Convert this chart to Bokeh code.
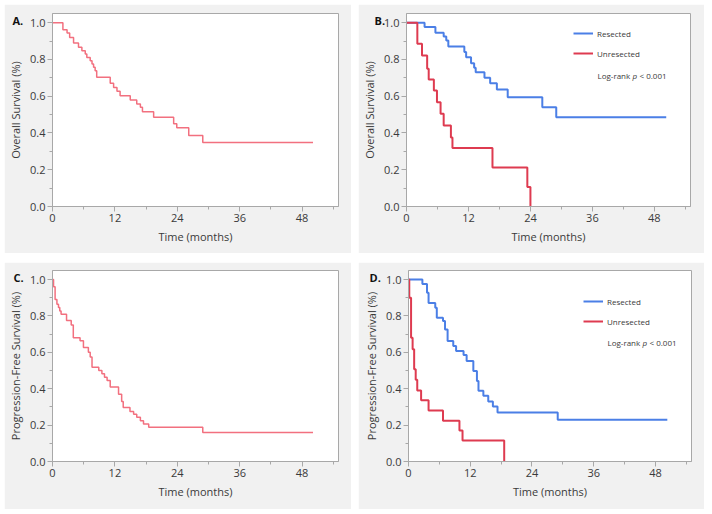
from bokeh.plotting import figure
from bokeh.models import Range1d, FixedTicker, Legend, LegendItem, Label, PrintfTickFormatter
from bokeh.layouts import row, column
from bokeh.embed import file_html
from bokeh.resources import INLINE

# ---------------- data ----------------
x_ticks = [0, 12, 24, 36, 48]
x_minor = [6, 18, 30, 42, 54]
y_ticks = [0.0, 0.2, 0.4, 0.6, 0.8, 1.0]
y_minor = [0.1, 0.3, 0.5, 0.7, 0.9]

# A. Overall survival, all patients
os_all_t = [0, 2.0, 2.8, 3.3, 4.05, 5.0, 5.65, 6.3, 6.6, 7.25, 7.6, 7.9, 8.2, 8.5,
            11.1, 11.75, 12.4, 13.0, 14.95, 16.2, 16.9, 17.3, 19.45, 23.3, 23.9,
            26.2, 28.9, 50.1]
os_all_s = [1.0, 0.962, 0.944, 0.92, 0.89, 0.866, 0.848, 0.83, 0.81, 0.793, 0.775,
            0.757, 0.739, 0.703, 0.67, 0.648, 0.627, 0.603, 0.58, 0.558, 0.54, 0.515,
            0.486, 0.45, 0.428, 0.386, 0.348, 0.348]

# B. Overall survival by resection
os_res_t = [0, 3.5, 5.6, 7.2, 7.7, 8.1, 11.2, 11.55, 12.5, 13.1, 13.4, 15.1, 16.2,
            17.5, 19.6, 26.3, 29.0, 50.3]
os_res_s = [1.0, 0.976, 0.945, 0.925, 0.903, 0.871, 0.84, 0.812, 0.78, 0.755, 0.73,
            0.70, 0.67, 0.637, 0.594, 0.54, 0.486, 0.486]
os_unres_t = [0, 2.1, 3.0, 4.0, 4.3, 5.3, 5.9, 6.6, 7.2, 8.6, 8.9, 16.65, 23.4, 24.0]
os_unres_s = [1.0, 0.886, 0.822, 0.749, 0.691, 0.631, 0.567, 0.504, 0.44, 0.376,
              0.318, 0.212, 0.106, 0.0]

# C. Progression-free survival, all patients
pfs_all_t = [0, 0.2, 0.5, 0.85, 1.15, 1.4, 1.65, 2.7, 3.6, 4.0, 5.3, 5.95, 6.9, 7.25,
             7.6, 8.9, 9.5, 10.0, 10.5, 11.1, 12.7, 13.3, 13.6, 14.9, 15.6, 16.2,
             16.9, 17.5, 18.5, 28.9, 50.1]
pfs_all_s = [1.0, 0.96, 0.89, 0.865, 0.846, 0.828, 0.81, 0.775, 0.75, 0.68, 0.664,
             0.627, 0.6, 0.575, 0.518, 0.5, 0.482, 0.463, 0.445, 0.41, 0.37, 0.33,
             0.297, 0.275, 0.26, 0.243, 0.224, 0.206, 0.188, 0.16, 0.16]

# D. Progression-free survival by resection
pfs_res_t = [0, 2.7, 3.6, 3.9, 5.2, 5.5, 6.7, 7.1, 7.6, 8.7, 9.25, 10.7, 11.3, 12.6,
             13.3, 13.6, 14.55, 15.5, 16.4, 17.3, 29.0, 50.3]
pfs_res_s = [1.0, 0.976, 0.927, 0.872, 0.845, 0.79, 0.772, 0.726, 0.662, 0.635,
             0.608, 0.586, 0.553, 0.498, 0.443, 0.389, 0.361, 0.33, 0.303, 0.27,
             0.23, 0.23]
pfs_unres_t = [0, 0.15, 0.5, 0.8, 1.1, 1.4, 1.7, 2.45, 3.9, 6.7, 9.9, 10.5, 18.6]
pfs_unres_s = [1.0, 0.9, 0.68, 0.617, 0.507, 0.45, 0.39, 0.337, 0.28, 0.224, 0.17,
               0.115, 0.0]

panel_letters = ["A.", "B.", "C.", "D."]
group_labels = ["Resected", "Unresected"]
pvalue_text = ["Log-rank", "p", "< 0.001"]

# ---------------- style ----------------
FONT = "Open Sans"
PANEL_BG = "#f1f1f1"
AXIS_COL = "#a8a8a8"
TEXT_COL = "#3a3a3a"
PINK = "#f2707f"
RED = "#de3b50"
BLUE = "#4b7fe6"


def make_panel(letter, letter_offset, letter_standoff, ylabel, width, height, mb):
    left, right, top, bottom = mb
    p = figure(width=width, height=height, output_backend="svg", toolbar_location=None,
               x_range=Range1d(0, 55), y_range=Range1d(0, 1.05),
               min_border_left=left, min_border_right=right,
               min_border_top=top, min_border_bottom=bottom)
    # panel letter as the (unclipped) title, pulled down next to the frame corner;
    # the empty first line only enlarges the text box so it can hang lower
    p.title.text = "\n" + letter
    p.title.align = "left"
    p.title.vertical_align = "bottom"
    p.title.offset = letter_offset
    p.title.standoff = letter_standoff
    p.title.text_font = FONT
    p.title.text_font_size = "11px"
    p.title.text_font_style = "bold"
    p.title.text_color = "#111111"
    p.border_fill_color = PANEL_BG
    p.background_fill_color = "white"
    p.outline_line_color = AXIS_COL
    p.grid.visible = False
    p.xaxis.ticker = FixedTicker(ticks=x_ticks, minor_ticks=x_minor)
    p.yaxis.ticker = FixedTicker(ticks=y_ticks, minor_ticks=y_minor)
    p.yaxis.formatter = PrintfTickFormatter(format="%.1f")
    p.xaxis.axis_label = "Time (months)"
    p.yaxis.axis_label = ylabel
    for ax in (p.xaxis, p.yaxis):
        ax.axis_line_color = AXIS_COL
        ax.major_tick_line_color = AXIS_COL
        ax.minor_tick_line_color = AXIS_COL
        ax.major_tick_out = 5
        ax.major_tick_in = 0
        ax.minor_tick_out = 3
        ax.minor_tick_in = 0
        ax.major_label_text_font = FONT
        ax.major_label_text_font_size = "11px"
        ax.major_label_text_color = TEXT_COL
        ax.major_label_standoff = 2
        ax.axis_label_text_font = FONT
        ax.axis_label_text_font_size = "11px"
        ax.axis_label_text_font_style = "normal"
        ax.axis_label_text_color = TEXT_COL
        ax.axis_label_standoff = 4
    return p


def add_group_legend(p, r_res, r_unres, loc, ptext_pos):
    legend = Legend(items=[LegendItem(label=group_labels[0], renderers=[r_res]),
                           LegendItem(label=group_labels[1], renderers=[r_unres])],
                    location=loc, glyph_width=20, glyph_height=20, label_standoff=4,
                    spacing=0, padding=0, margin=0, border_line_color=None,
                    background_fill_alpha=0, label_text_font=FONT,
                    label_text_font_size="8px", label_text_color=TEXT_COL,
                    label_height=20)
    p.add_layout(legend)
    x0, y0 = ptext_pos
    offsets = [0, 35, 42]
    styles = ["normal", "italic", "normal"]
    for txt, dx, st in zip(pvalue_text, offsets, styles):
        p.add_layout(Label(x=x0 + dx, y=y0, x_units="screen", y_units="screen", text=txt,
                           text_font=FONT, text_font_size="8px", text_font_style=st,
                           text_color=TEXT_COL, text_baseline="middle", text_align="left"))


# A
pA = make_panel(panel_letters[0], -40, -29, "Overall Survival (%)", 347, 249,
                (48, 13, 9, 47))
pA.step(os_all_t, os_all_s, mode="after", line_color=PINK, line_width=1.5)

# B
pB = make_panel(panel_letters[1], -32, -29, "Overall Survival (%)", 346, 249,
                (48, 14, 9, 47))
rb1 = pB.step(os_res_t, os_res_s, mode="after", line_color=BLUE, line_width=2)
rb2 = pB.step(os_unres_t, os_unres_s, mode="after", line_color=RED, line_width=2)
add_group_legend(pB, rb1, rb2, (167, 143), (191, 131))

# C
pC = make_panel(panel_letters[2], -39, -28, "Progression-Free Survival (%)", 347, 247,
                (48, 13, 8, 48))
pC.step(pfs_all_t, pfs_all_s, mode="after", line_color=PINK, line_width=1.5)

# D
pD = make_panel(panel_letters[3], -39, -28, "Progression-Free Survival (%)", 346, 247,
                (50, 13, 8, 48))
rd1 = pD.step(pfs_res_t, pfs_res_s, mode="after", line_color=BLUE, line_width=2)
rd2 = pD.step(pfs_unres_t, pfs_unres_s, mode="after", line_color=RED, line_width=2)
add_group_legend(pD, rd1, rd2, (175, 130), (199, 119))

layout = column(row(pA, pB, spacing=7), row(pC, pD, spacing=7), spacing=9,
                margin=(4, 0, 0, 4))

open("out.html", "w").write(file_html(layout, INLINE))
